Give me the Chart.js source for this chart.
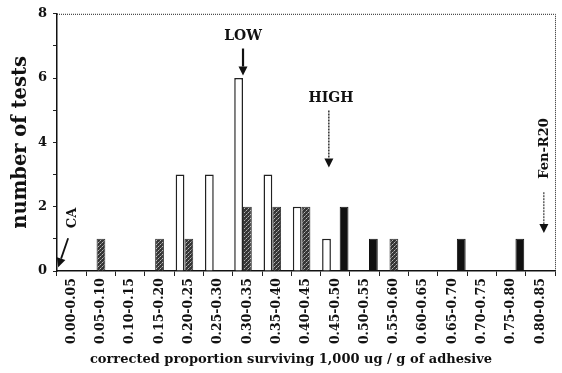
<!DOCTYPE html>
<html>
<head>
<meta charset="utf-8">
<script src="https://cdn.jsdelivr.net/npm/chart.js@4.4.1/dist/chart.umd.min.js"></script>
<style>
  html, body { margin: 0; padding: 0; background: #fff; }
  #wrap { width: 562px; height: 373px; }
</style>
</head>
<body>
<div id="wrap"><canvas id="chart" width="562" height="373"></canvas></div>
<script>
// histogram classes (corrected proportion surviving)
const categories = ['0.00-0.05', '0.05-0.10', '0.10-0.15', '0.15-0.20', '0.20-0.25', '0.25-0.30',
    '0.30-0.35', '0.35-0.40', '0.40-0.45', '0.45-0.50', '0.50-0.55', '0.55-0.60',
    '0.60-0.65', '0.65-0.70', '0.70-0.75', '0.75-0.80', '0.80-0.85'];

// number of tests per class, one list per bar shading
const openBars     = [0, 0, 0, 0, 3, 3, 6, 3, 2, 1, 0, 0, 0, 0, 0, 0, 0];
const stippledBars = [0, 1, 0, 1, 1, 0, 2, 2, 2, 0, 0, 1, 0, 0, 0, 0, 0];
const solidBars    = [0, 0, 0, 0, 0, 0, 0, 0, 0, 2, 1, 0, 0, 1, 0, 1, 0];

const yTicks = [0, 2, 4, 6, 8];

const SERIF = "'DejaVu Serif', 'Liberation Serif', serif";

function makeStipple() {
    const c = document.createElement('canvas');
    c.width = 4; c.height = 4;
    const g = c.getContext('2d');
    g.fillStyle = '#353535';
    g.fillRect(0, 0, 4, 4);
    g.fillStyle = '#b8b8b8';
    g.fillRect(0, 0, 1, 1);
    g.fillRect(2, 2, 1, 1);
    g.fillStyle = '#7a7a7a';
    g.fillRect(3, 1, 1, 1);
    g.fillRect(1, 3, 1, 1);
    return g.createPattern(c, 'repeat');
}

// arrows and labels drawn on top of the plot
const notes = {
    id: 'notes',
    afterDraw(chart) {
        const ctx = chart.ctx;
        const x = chart.scales.x, y = chart.scales.y;
        const bw = x.width / categories.length;
        const px = p => x.left + bw * p;
        const py = v => y.getPixelForValue(v);

        ctx.save();
        // frame (top and right)
        ctx.strokeStyle = '#222';
        ctx.lineWidth = 1;
        ctx.setLineDash([1, 1]);
        ctx.beginPath();
        ctx.moveTo(x.left, y.top + 0.5);
        ctx.lineTo(x.right + 0.5, y.top + 0.5);
        ctx.lineTo(x.right + 0.5, y.bottom);
        ctx.stroke();
        ctx.setLineDash([]);

        function arrow(x1, y1, x2, y2, w, dashed) {
            ctx.strokeStyle = '#111';
            ctx.fillStyle = '#111';
            ctx.lineWidth = w;
            ctx.setLineDash(dashed ? [2, 1] : []);
            const a = Math.atan2(y2 - y1, x2 - x1);
            const hl = 9, hw = 4.5;
            const bx = x2 - Math.cos(a) * hl, by = y2 - Math.sin(a) * hl;
            ctx.beginPath();
            ctx.moveTo(x1, y1);
            ctx.lineTo(bx, by);
            ctx.stroke();
            ctx.setLineDash([]);
            ctx.beginPath();
            ctx.moveTo(x2, y2);
            ctx.lineTo(bx + Math.sin(a) * hw, by - Math.cos(a) * hw);
            ctx.lineTo(bx - Math.sin(a) * hw, by + Math.cos(a) * hw);
            ctx.closePath();
            ctx.fill();
        }

        ctx.fillStyle = '#111';
        ctx.font = 'bold 14px ' + SERIF;
        ctx.textAlign = 'center';
        ctx.textBaseline = 'middle';
        ctx.fillText('LOW', px(6.35), py(7.29));
        arrow(px(6.35), py(6.92), px(6.35), py(6.08), 2.2, false);

        ctx.fillStyle = '#111';
        ctx.fillText('HIGH', px(9.35), py(5.36));
        arrow(px(9.28), py(4.99), px(9.28), py(3.22), 1.3, true);

        ctx.save();
        ctx.fillStyle = '#111';
        ctx.font = 'bold 13px ' + SERIF;
        ctx.translate(px(16.65), py(3.81));
        ctx.rotate(-Math.PI / 2);
        ctx.fillText('Fen-R20', 0, 0);
        ctx.restore();
        arrow(px(16.62), py(2.45), px(16.62), py(1.18), 1, true);

        ctx.save();
        ctx.fillStyle = '#111';
        ctx.font = 'bold 13px ' + SERIF;
        ctx.translate(px(0.55), py(1.65));
        ctx.rotate(-Math.PI / 2);
        ctx.fillText('CA', 0, 0);
        ctx.restore();
        arrow(px(0.38), py(1.02), px(0.04), py(0.12), 1.8, false);

        // x axis title, set a little left of the axis centre as in the original
        ctx.fillStyle = '#111';
        ctx.font = 'bold 13px ' + SERIF;
        ctx.fillText('corrected proportion surviving 1,000 ug / g of adhesive', 291, 360);

        ctx.restore();
    }
};

const stipple = makeStipple();
const ctx = document.getElementById('chart');

new Chart(ctx, {
    type: 'bar',
    data: {
        labels: categories,
        datasets: [
            {
                label: 'open',
                data: openBars,
                backgroundColor: '#ffffff',
                borderColor: '#222',
                borderWidth: 1.5
            },
            {
                label: 'stippled',
                data: stippledBars,
                backgroundColor: stipple,
                borderColor: '#333',
                borderWidth: 1
            },
            {
                label: 'solid',
                data: solidBars,
                backgroundColor: '#111111',
                borderColor: '#111',
                borderWidth: 1
            }
        ]
    },
    options: {
        responsive: false,
        animation: false,
        layout: { padding: { left: 2, top: 13, right: 7, bottom: 0 } },
        plugins: {
            legend: { display: false },
            tooltip: { enabled: false }
        },
        datasets: {
            bar: { categoryPercentage: 0.9, barPercentage: 1 }
        },
        scales: {
            x: {
                grid: { display: true, drawOnChartArea: false, offset: true, tickLength: 5, color: '#222' },
                border: { color: '#111', width: 1.5 },
                ticks: {
                    autoSkip: false,
                    minRotation: 90,
                    maxRotation: 90,
                    padding: 2,
                    color: '#111',
                    font: { family: SERIF, size: 12.5, weight: 'bold' }
                },
                afterFit(scale) { scale.height = 102; }
            },
            y: {
                min: 0,
                max: 8,
                grid: { display: true, drawOnChartArea: false, tickLength: 4, color: '#222' },
                border: { color: '#111', width: 1.5 },
                afterBuildTicks(scale) {
                    scale.ticks = [0, 1, 2, 3, 4, 5, 6, 7, 8].map(v => ({ value: v }));
                },
                ticks: {
                    padding: 6,
                    color: '#111',
                    font: { family: SERIF, size: 13, weight: 'bold' },
                    callback: v => yTicks.includes(v) ? String(v) : ''
                },
                title: {
                    display: true,
                    text: 'number of tests',
                    color: '#111',
                    font: { family: SERIF, size: 19.5, weight: 'bold' },
                    padding: { top: 7, bottom: 0 }
                },
                afterFit(scale) { scale.width = 55; }
            }
        }
    },
    plugins: [notes]
});
</script>
</body>
</html>
